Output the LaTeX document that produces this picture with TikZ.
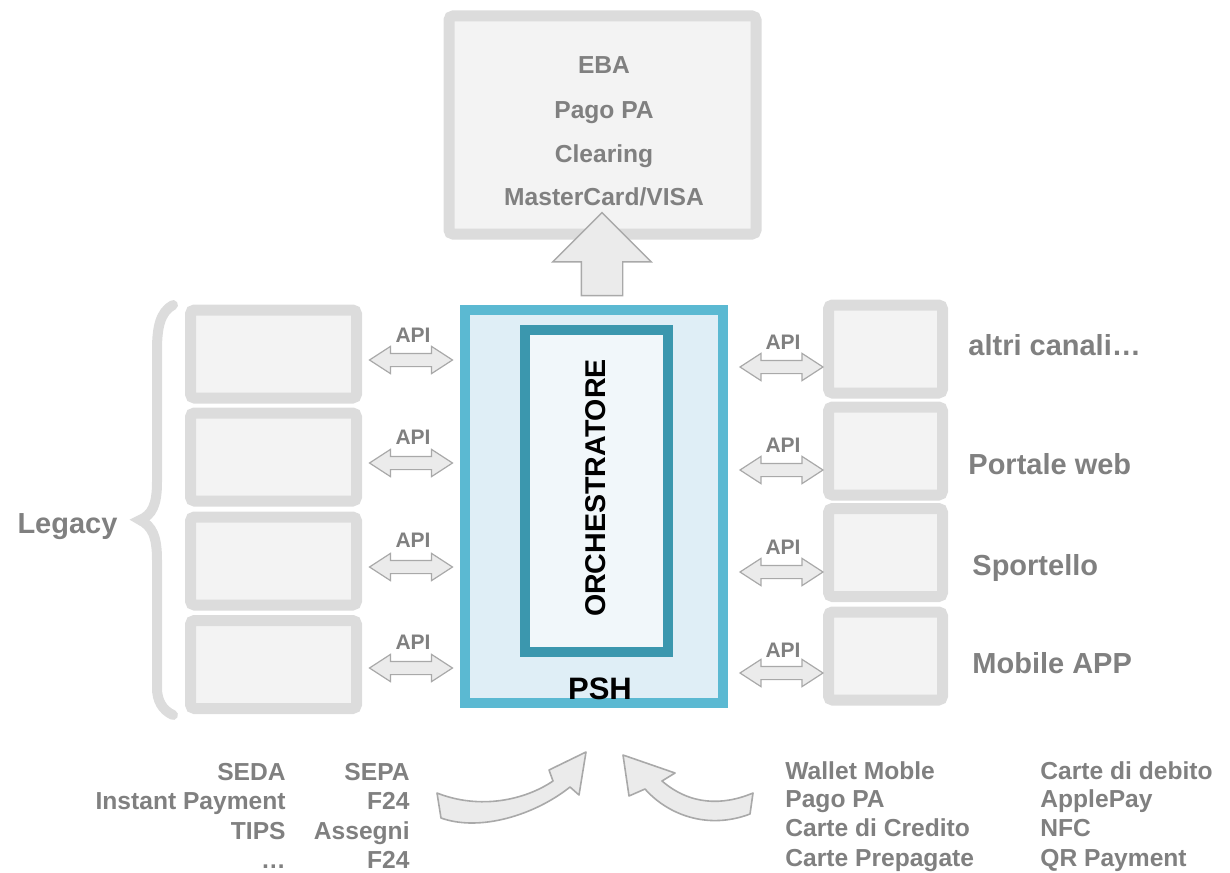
\documentclass[tikz,border=0pt]{standalone}
\usepackage{fontspec}
\setmainfont{Liberation Sans}
\usetikzlibrary{shapes.arrows}
\definecolor{txtgray}{HTML}{808080}
\definecolor{boxborder}{HTML}{DCDCDC}
\definecolor{boxfill}{HTML}{F3F3F3}
\definecolor{pshborder}{HTML}{5BB9D2}
\definecolor{pshfill}{HTML}{DFEEF6}
\definecolor{orchborder}{HTML}{3B97AE}
\definecolor{orchfill}{HTML}{F1F7FA}
\definecolor{arrowline}{HTML}{A9A9A9}
\definecolor{arrowfill}{HTML}{EBEBEB}
\begin{document}
\begin{tikzpicture}[x=0.5pt,y=-0.5pt,
  graybox/.style={draw=boxborder, fill=boxfill, line width=5.5pt, rounded corners=2pt, inner sep=0pt},
  legbox/.style={graybox, minimum width=83pt, minimum height=44pt},
  chbox/.style={graybox, minimum width=57pt, minimum height=44pt},
  lbl/.style={font=\bfseries\fontsize{12.3}{14}\selectfont, text=txtgray, inner sep=0pt},
  toplbl/.style={lbl, anchor=base},
  biglbl/.style={font=\bfseries\fontsize{14.5}{17}\selectfont, text=txtgray, inner sep=0pt, anchor=base west},
  apilbl/.style={font=\bfseries\fontsize{10.5}{12}\selectfont, text=txtgray, inner sep=0pt, anchor=base},
  apiarrow/.style={shape=double arrow, draw=arrowline, fill=arrowfill, line width=0.6pt,
    minimum height=41.5pt, double arrow head extend=3.5pt,
    double arrow tip angle=66, inner xsep=0pt, inner ysep=3pt},
  uparrow/.style={shape=single arrow, draw=arrowline, fill=arrowfill, line width=0.7pt,
    minimum height=41.5pt, single arrow head extend=14.25pt,
    inner xsep=0pt, inner ysep=10pt, rotate=90},
  curvearrow/.style={draw=arrowline, fill=arrowfill, line width=0.8pt, line join=round},
  brace/.style={draw=boxborder, line width=5pt, line cap=round},
]
\useasboundingbox (0,0) rectangle (1230,872);

% top external box
\node[graybox, minimum width=153.5pt, minimum height=109pt] (ext) at (602.5,125) {};

% up arrow from PSH to external box
\coordinate (upmid) at (602,264.5);
\node[uparrow] (up) at (upmid) {};

\node[toplbl] (eba) at (604,73.5) {EBA};
\node[toplbl] (pagopa) at (604,118.5) {Pago PA};
\node[toplbl] (clearing) at (604,162.5) {Clearing};
\node[toplbl] (mcvisa) at (604,205.5) {MasterCard/VISA};

% PSH
\node[draw=pshborder, fill=pshfill, line width=5pt, minimum width=129pt, minimum height=196.5pt, inner sep=0pt] (psh) at (594,506.5) {};
\node[draw=orchborder, fill=orchfill, line width=5pt, minimum width=71.5pt, minimum height=161pt, inner sep=0pt] (orch) at (596.5,491) {};
\node[rotate=90, font=\bfseries\fontsize{14.3}{17}\selectfont, inner sep=0pt] (orchlbl) at (596,488) {ORCHESTRATORE};
\node[anchor=base, font=\bfseries\fontsize{15.5}{18}\selectfont, inner sep=0pt] (pshlbl) at (600,699) {PSH};

% legacy boxes
\node[legbox] (L1) at (273.5,354) {};
\node[legbox] (L2) at (273.5,457) {};
\node[legbox] (L3) at (273.5,561) {};
\node[legbox] (L4) at (273.5,664.5) {};

% channel boxes
\node[chbox] (R1) at (885.5,349) {};
\node[chbox] (R2) at (885.5,451) {};
\node[chbox] (R3) at (885.5,552.5) {};
\node[chbox] (R4) at (885.5,656) {};

% brace and Legacy
\draw[brace] (173,305) .. controls (160,312) and (157,328) .. (157,350) -- (157,482)
  .. controls (157,505) and (152,515) .. (140,520)
  .. controls (152,526) and (157,536) .. (157,560) -- (157,688)
  .. controls (157,700) and (162,710) .. (173,715);
\node[biglbl, anchor=base] (legacy) at (67.5,533) {Legacy};

% API arrows left
\foreach \i/\ya/\yl in {1/360/342.5, 2/463/444.5, 3/567/547.5, 4/668/649.5} {
  \path (L\i.east |- 0,\ya) -- (psh.west |- 0,\ya) node[midway, apiarrow] (al\i) {};
  \node[apilbl] (apil\i) at (413,\yl) {API};
}
% API arrows right
\foreach \i/\ya/\yl in {1/367/349.5, 2/470/452.5, 3/572/554.5, 4/673/657.5} {
  \node[apiarrow] (ar\i) at (781.5,\ya) {};
  \node[apilbl] (apir\i) at (783,\yl) {API};
}

% channel labels
\node[biglbl] (altri) at (968,355) {altri canali…};
\node[biglbl] (portale) at (968,474) {Portale web};
\node[biglbl] (sportello) at (972,575) {Sportello};
\node[biglbl] (mobile) at (972,673) {Mobile APP};

% bottom left texts
\foreach \t/\y [count=\k] in {SEDA/780.5, Instant Payment/809.5, TIPS/839.5, …/868.5}
  \node[lbl, anchor=base east] (bl\k) at (286,\y) {\t};
\foreach \t/\y [count=\k] in {SEPA/780.5, F24/809.5, Assegni/839.5, F24/868.5}
  \node[lbl, anchor=base east] (bm\k) at (410,\y) {\t};

% bottom right texts
\foreach \t/\y [count=\k] in {Wallet Moble/779.5, Pago PA/807.5, Carte di Credito/836.5, Carte Prepagate/866.5}
  \node[lbl, anchor=base west] (br\k) at (785,\y) {\t};
\foreach \t/\y [count=\k] in {Carte di debito/779.5, ApplePay/807.5, NFC/836.5, QR Payment/866.5}
  \node[lbl, anchor=base west] (bs\k) at (1040,\y) {\t};

% curved arrows
\draw[curvearrow] (437,793) .. controls (480,810) and (525,800) .. (553,781)
  -- (549,770) -- (586,752) -- (579,795) -- (570,787)
  .. controls (535,815) and (480,832) .. (441,818) -- cycle;
\draw[curvearrow] (623,755) -- (675,773) -- (662,781)
  .. controls (690,805) and (722,806) .. (753,793) -- (750,814)
  .. controls (708,830) and (668,815) .. (645,789) -- (629,796) -- cycle;
\end{tikzpicture}
\end{document}
